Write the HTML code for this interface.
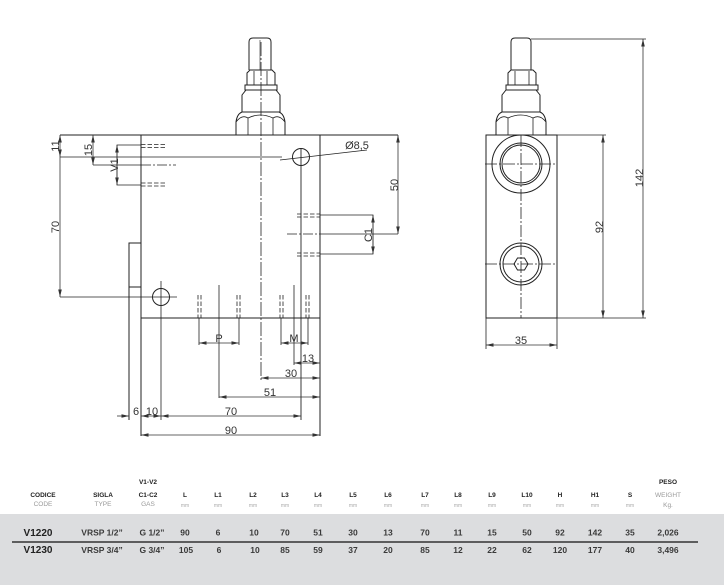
<!DOCTYPE html>
<html><head><meta charset="utf-8"><style>
html,body{margin:0;padding:0;background:#fff;}
svg{display:block;}
.t{font-family:"Liberation Sans",Arial,sans-serif;}
</style></head><body>
<svg width="724" height="585" viewBox="0 0 724 585" xmlns="http://www.w3.org/2000/svg">
<defs>
<marker id="a" markerWidth="8" markerHeight="6" refX="7.5" refY="3" orient="auto-start-reverse" markerUnits="userSpaceOnUse">
<path d="M0,1.2 L7.5,3 L0,4.8 Z" fill="#333"/>
</marker>
</defs>
<rect width="724" height="585" fill="#fff"/>

<g fill="none" stroke="#222" stroke-width="1">
<!-- LEFT VIEW -->
<line x1="60" y1="135" x2="398" y2="135"/>
<line x1="141" y1="135" x2="141" y2="436"/>
<line x1="320" y1="135" x2="320" y2="436"/>
<line x1="141" y1="318" x2="320" y2="318"/>
<polyline points="141,243 129,243 129,420"/>
<line x1="129" y1="287" x2="141" y2="287"/>
<circle cx="161" cy="297" r="8.5"/>
<line x1="161" y1="281" x2="161" y2="420" stroke-width="0.8"/>
<line x1="60" y1="297" x2="177" y2="297" stroke-width="0.8"/>
<circle cx="301" cy="157" r="8.5"/>
<line x1="301" y1="148" x2="301" y2="420" stroke-width="0.9"/>
<line x1="60" y1="157" x2="282" y2="157" stroke-width="0.8"/>
<line x1="280" y1="160" x2="367" y2="150" stroke-width="0.8"/>

<line x1="261" y1="42" x2="261" y2="380" stroke-width="0.8" stroke-dasharray="14,2,2,2"/>

<!-- V1 port -->
<line x1="93" y1="165" x2="141" y2="165" stroke-width="0.8"/>
<line x1="141" y1="165" x2="176" y2="165" stroke-width="0.8" stroke-dasharray="10,2,2,2"/>
<polyline points="141,145 117,145 117,185 141,185" stroke-width="0.8"/>
<g stroke-width="0.8" stroke-dasharray="4.5,2">
<line x1="141" y1="144.5" x2="166" y2="144.5"/>
<line x1="141" y1="147.5" x2="166" y2="147.5"/>
<line x1="141" y1="183" x2="166" y2="183"/>
<line x1="141" y1="186" x2="166" y2="186"/>
<line x1="297" y1="214" x2="320" y2="214"/>
<line x1="297" y1="217" x2="320" y2="217"/>
<line x1="297" y1="253" x2="320" y2="253"/>
<line x1="297" y1="256" x2="320" y2="256"/>
<line x1="198" y1="295" x2="198" y2="318"/>
<line x1="201" y1="295" x2="201" y2="318"/>
<line x1="237" y1="295" x2="237" y2="318"/>
<line x1="240" y1="295" x2="240" y2="318"/>
<line x1="280" y1="295" x2="280" y2="318"/>
<line x1="283" y1="295" x2="283" y2="318"/>
<line x1="306" y1="295" x2="306" y2="318"/>
<line x1="309" y1="295" x2="309" y2="318"/>
</g>

<!-- C1 port -->
<line x1="287" y1="234" x2="320" y2="234" stroke-width="0.8" stroke-dasharray="10,2,2,2"/>
<line x1="320" y1="234" x2="398" y2="234" stroke-width="0.8"/>
<polyline points="320,215 373,215 373,254 320,254" stroke-width="0.8"/>

<!-- P port -->
<line x1="199" y1="318" x2="199" y2="345" stroke-width="0.8"/>
<line x1="239" y1="318" x2="239" y2="345" stroke-width="0.8"/>
<line x1="219" y1="285" x2="219" y2="398" stroke-width="0.8"/>
<!-- M port -->
<line x1="281" y1="318" x2="281" y2="345" stroke-width="0.8"/>
<line x1="308" y1="318" x2="308" y2="345" stroke-width="0.8"/>
<line x1="294" y1="285" x2="294" y2="365" stroke-width="0.8"/>

<!-- stem left -->
<path d="M249,70 V42 Q249,38 253,38 H267 Q271,38 271,42 V70"/>
<line x1="260" y1="40" x2="260" y2="70" stroke-width="0.6"/>
<path d="M247,85 V73 L250,70 H272 L275,73 V85 Z"/>
<line x1="254" y1="71" x2="254" y2="85" stroke-width="0.8"/>
<line x1="267" y1="71" x2="267" y2="85" stroke-width="0.8"/>
<rect x="245" y="85" width="32" height="5"/>
<path d="M242,112 V95 L246,90 H276 L280,95 V112 Z"/>
<path d="M236,135 V122 Q237,114 242,112 H279 Q284,114 285,122 V135"/>
<line x1="248" y1="118" x2="248" y2="135" stroke-width="0.8"/>
<line x1="273" y1="118" x2="273" y2="135" stroke-width="0.8"/>
<path d="M236,122 Q242,114 248,118 Q260,112 273,118 Q279,114 285,122" stroke-width="0.8"/>

<!-- RIGHT VIEW -->
<rect x="486" y="135" width="71" height="183"/>
<circle cx="521" cy="164" r="29"/>
<circle cx="521" cy="164" r="21"/>
<circle cx="521" cy="164" r="19"/>
<line x1="485" y1="164" x2="557" y2="164" stroke-width="0.8" stroke-dasharray="12,2,2,2"/>
<circle cx="521" cy="264" r="21"/>
<circle cx="521" cy="264" r="18"/>
<polygon points="528,264 524.5,270 517.5,270 514,264 517.5,258 524.5,258"/>
<line x1="485" y1="264" x2="557" y2="264" stroke-width="0.8" stroke-dasharray="12,2,2,2"/>
<line x1="521" y1="135" x2="521" y2="318" stroke-width="0.8" stroke-dasharray="12,2,2,2"/>
<path d="M511,70 V42 Q511,38 515,38 H527 Q531,38 531,42 V70"/>
<path d="M508,85 V73 L511,70 H533 L536,73 V85 Z"/>
<line x1="515" y1="71" x2="515" y2="85" stroke-width="0.8"/>
<line x1="529" y1="71" x2="529" y2="85" stroke-width="0.8"/>
<rect x="506" y="85" width="32" height="5"/>
<path d="M502,112 V95 L506,90 H536 L540,95 V112 Z"/>
<path d="M496,135 V122 Q497,114 502,112 H540 Q545,114 546,122 V135"/>
<line x1="508" y1="118" x2="508" y2="135" stroke-width="0.8"/>
<line x1="533" y1="118" x2="533" y2="135" stroke-width="0.8"/>
<path d="M496,122 Q502,114 508,118 Q521,112 533,118 Q540,114 546,122" stroke-width="0.8"/>
<line x1="531" y1="39" x2="646" y2="39" stroke-width="0.8"/>
<line x1="557" y1="318" x2="646" y2="318" stroke-width="0.8"/>
<line x1="557" y1="135" x2="606" y2="135" stroke-width="0.8"/>
<line x1="486" y1="318" x2="486" y2="349" stroke-width="0.8"/>
<line x1="557" y1="318" x2="557" y2="349" stroke-width="0.8"/>
</g>

<g stroke="#333" stroke-width="0.8" fill="none">
<line x1="60" y1="135" x2="60" y2="157" marker-start="url(#a)" marker-end="url(#a)"/>
<line x1="60" y1="157" x2="60" y2="297" marker-end="url(#a)"/>
<line x1="93" y1="135" x2="93" y2="165" marker-start="url(#a)" marker-end="url(#a)"/>
<line x1="117" y1="145" x2="117" y2="185" marker-start="url(#a)" marker-end="url(#a)"/>
<line x1="398" y1="135" x2="398" y2="234" marker-start="url(#a)" marker-end="url(#a)"/>
<line x1="373" y1="215" x2="373" y2="254" marker-start="url(#a)" marker-end="url(#a)"/>
<line x1="199" y1="343" x2="239" y2="343" marker-start="url(#a)" marker-end="url(#a)"/>
<line x1="281" y1="343" x2="308" y2="343" marker-start="url(#a)" marker-end="url(#a)"/>
<line x1="294" y1="363" x2="320" y2="363" marker-start="url(#a)" marker-end="url(#a)"/>
<line x1="261" y1="378" x2="320" y2="378" marker-start="url(#a)" marker-end="url(#a)"/>
<line x1="219" y1="397" x2="320" y2="397" marker-start="url(#a)" marker-end="url(#a)"/>
<line x1="117" y1="416" x2="129" y2="416" marker-end="url(#a)"/>
<line x1="141" y1="416" x2="161" y2="416" marker-start="url(#a)" marker-end="url(#a)"/>
<line x1="161" y1="416" x2="301" y2="416" marker-start="url(#a)" marker-end="url(#a)"/>
<line x1="141" y1="435" x2="320" y2="435" marker-start="url(#a)" marker-end="url(#a)"/>
<line x1="643" y1="39" x2="643" y2="318" marker-start="url(#a)" marker-end="url(#a)"/>
<line x1="603" y1="135" x2="603" y2="318" marker-start="url(#a)" marker-end="url(#a)"/>
<line x1="486" y1="345" x2="557" y2="345" marker-start="url(#a)" marker-end="url(#a)"/>
</g>

<g class="t" font-size="11" fill="#333" text-anchor="middle">
<text transform="translate(59,146) rotate(-90)">11</text>
<text transform="translate(59,227) rotate(-90)">70</text>
<text transform="translate(92,150) rotate(-90)">15</text>
<text transform="translate(118,165) rotate(-90)">V1</text>
<text transform="translate(398,185) rotate(-90)">50</text>
<text transform="translate(372,235) rotate(-90)">C1</text>
<text x="357" y="149">Ø8,5</text>
<text x="219" y="342">P</text>
<text x="294" y="342">M</text>
<text x="308" y="362">13</text>
<text x="291" y="377">30</text>
<text x="270" y="396">51</text>
<text x="136" y="415">6</text>
<text x="152" y="415">10</text>
<text x="231" y="415">70</text>
<text x="231" y="434">90</text>
<text transform="translate(643,178) rotate(-90)">142</text>
<text transform="translate(603,227) rotate(-90)">92</text>
<text x="521" y="344">35</text>
</g>

<rect x="0" y="514" width="724" height="71" fill="#dcdddf"/>
<line x1="12" y1="542" x2="698" y2="542" stroke="#111" stroke-width="1.2"/>

<g class="t" text-anchor="middle">
<g font-size="6.5" font-weight="bold" fill="#222">
<text x="43" y="497">CODICE</text>
<text x="103" y="497">SIGLA</text>
<text x="148" y="484">V1-V2</text>
<text x="148" y="497">C1-C2</text>
<text x="185" y="497">L</text>
<text x="218" y="497">L1</text>
<text x="253" y="497">L2</text>
<text x="285" y="497">L3</text>
<text x="318" y="497">L4</text>
<text x="353" y="497">L5</text>
<text x="388" y="497">L6</text>
<text x="425" y="497">L7</text>
<text x="458" y="497">L8</text>
<text x="492" y="497">L9</text>
<text x="527" y="497">L10</text>
<text x="560" y="497">H</text>
<text x="595" y="497">H1</text>
<text x="630" y="497">S</text>
<text x="668" y="484">PESO</text>
</g>
<g font-size="6.5" fill="#999">
<text x="43" y="506">CODE</text>
<text x="103" y="506">TYPE</text>
<text x="148" y="506">GAS</text>
<text x="668" y="497">WEIGHT</text>
<text x="668" y="507">Kg.</text>
</g>
<g font-size="5" fill="#aaa">
<text x="185" y="507">mm</text>
<text x="218" y="507">mm</text>
<text x="253" y="507">mm</text>
<text x="285" y="507">mm</text>
<text x="318" y="507">mm</text>
<text x="353" y="507">mm</text>
<text x="388" y="507">mm</text>
<text x="425" y="507">mm</text>
<text x="458" y="507">mm</text>
<text x="492" y="507">mm</text>
<text x="527" y="507">mm</text>
<text x="560" y="507">mm</text>
<text x="595" y="507">mm</text>
<text x="630" y="507">mm</text>
</g>
<g font-size="10" font-weight="bold" fill="#222">
<text x="38" y="536">V1220</text>
<text x="38" y="553">V1230</text>
</g>
<g font-size="8.5" font-weight="bold" fill="#3a3a3a">
<text x="102" y="535.5">VRSP 1/2”</text>
<text x="152" y="535.5">G 1/2”</text>
<text x="185" y="535.5">90</text>
<text x="218" y="535.5">6</text>
<text x="254" y="535.5">10</text>
<text x="285" y="535.5">70</text>
<text x="318" y="535.5">51</text>
<text x="353" y="535.5">30</text>
<text x="388" y="535.5">13</text>
<text x="425" y="535.5">70</text>
<text x="458" y="535.5">11</text>
<text x="492" y="535.5">15</text>
<text x="527" y="535.5">50</text>
<text x="560" y="535.5">92</text>
<text x="595" y="535.5">142</text>
<text x="630" y="535.5">35</text>
<text x="668" y="535.5">2,026</text>

<text x="102" y="553">VRSP 3/4”</text>
<text x="152" y="553">G 3/4”</text>
<text x="186" y="553">105</text>
<text x="219" y="553">6</text>
<text x="255" y="553">10</text>
<text x="285" y="553">85</text>
<text x="318" y="553">59</text>
<text x="353" y="553">37</text>
<text x="388" y="553">20</text>
<text x="425" y="553">85</text>
<text x="458" y="553">12</text>
<text x="492" y="553">22</text>
<text x="527" y="553">62</text>
<text x="560" y="553">120</text>
<text x="595" y="553">177</text>
<text x="630" y="553">40</text>
<text x="668" y="553">3,496</text>
</g>
</g>
</svg>
</body></html>
